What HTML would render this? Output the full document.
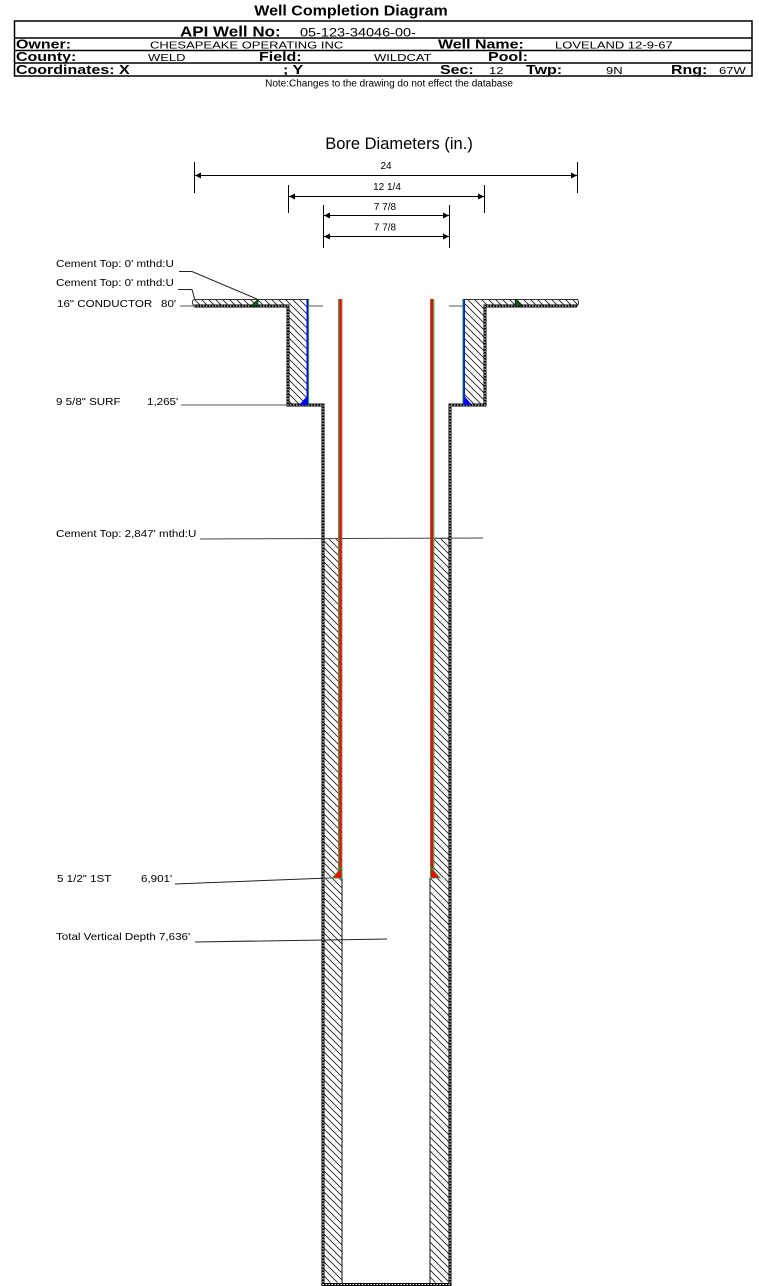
<!DOCTYPE html>
<html><head><meta charset="utf-8"><style>
html,body{margin:0;padding:0;background:#fff;width:759px;height:1286px;overflow:hidden}
svg{display:block}
text{font-family:"Liberation Sans",Arial,sans-serif;fill:#000}
.b{font-weight:bold;font-size:16px}
.v{font-size:13px}
.l{font-size:11.6px}
</style></head><body>
<svg width="759" height="1286" viewBox="0 0 759 1286" xmlns="http://www.w3.org/2000/svg">
<defs>
<pattern id="h" patternUnits="userSpaceOnUse" width="7" height="7">
<path d="M-1,-1 L8,8 M-1,6 L1,8 M6,-1 L8,1" stroke="#222" stroke-width="0.9" fill="none"/>
</pattern>
<marker id="ar" viewBox="0 0 10 10" refX="10" refY="5" markerWidth="9" markerHeight="6" orient="auto" markerUnits="userSpaceOnUse">
<path d="M0,0 L10,5 L0,10 z" fill="#000"/>
</marker>
</defs>

<!-- Header -->
<g transform="translate(0,15.5) scale(1,0.9)">
<text class="b" x="351" y="0" text-anchor="middle">Well Completion Diagram</text>
</g>
<g stroke="#000" stroke-width="1.5" fill="none">
<rect x="14.5" y="21" width="737.5" height="55"/>
<line x1="14.5" y1="38" x2="752" y2="38"/>
<line x1="14.5" y1="50.5" x2="752" y2="50.5"/>
<line x1="14.5" y1="63" x2="752" y2="63"/>
</g>
<g transform="translate(0,36.3) scale(1,0.85)">
<text class="b" x="180" y="0" style="font-size:17px">API Well No:</text>
<text x="300" y="0" style="font-size:14.5px">05-123-34046-00-</text>
</g>
<g transform="translate(0,48.7) scale(1,0.8)">
<text class="b" x="16" y="0">Owner:</text>
<text class="v" x="150" y="0">CHESAPEAKE OPERATING INC</text>
<text class="b" x="438" y="0">Well Name:</text>
<text class="v" x="555" y="0">LOVELAND 12-9-67</text>
</g>
<g transform="translate(0,61.2) scale(1,0.8)">
<text class="b" x="16" y="0">County:</text>
<text class="v" x="148" y="0">WELD</text>
<text class="b" x="259" y="0">Field:</text>
<text class="v" x="374" y="0">WILDCAT</text>
<text class="b" x="488" y="0">Pool:</text>
</g>
<g transform="translate(0,73.8) scale(1,0.8)">
<text class="b" x="16" y="0">Coordinates: X</text>
<text class="b" x="283" y="0">; Y</text>
<text class="b" x="440" y="0">Sec:</text>
<text class="v" x="489" y="0">12</text>
<text class="b" x="526" y="0">Twp:</text>
<text class="v" x="606" y="0">9N</text>
<text class="b" x="671" y="0">Rng:</text>
<text class="v" x="719" y="0">67W</text>
</g>

<text x="389" y="86.5" text-anchor="middle" style="font-size:10px">Note:Changes to the drawing do not effect the database</text>

<!-- Bore diameters -->
<text x="399" y="149" text-anchor="middle" style="font-size:16.5px">Bore Diameters (in.)</text>
<g stroke="#000" stroke-width="1">
<line x1="194.5" y1="162" x2="194.5" y2="193"/>
<line x1="577.5" y1="162" x2="577.5" y2="193"/>
<line x1="288.5" y1="185" x2="288.5" y2="213"/>
<line x1="484.5" y1="185" x2="484.5" y2="213"/>
<line x1="323.5" y1="205" x2="323.5" y2="248"/>
<line x1="449.5" y1="205" x2="449.5" y2="248"/>
<line x1="386" y1="175.5" x2="195" y2="175.5" marker-end="url(#ar)"/>
<line x1="386" y1="175.5" x2="577" y2="175.5" marker-end="url(#ar)"/>
<line x1="386" y1="196.5" x2="289" y2="196.5" marker-end="url(#ar)"/>
<line x1="386" y1="196.5" x2="484" y2="196.5" marker-end="url(#ar)"/>
<line x1="386" y1="215.5" x2="324" y2="215.5" marker-end="url(#ar)"/>
<line x1="386" y1="215.5" x2="449" y2="215.5" marker-end="url(#ar)"/>
<line x1="386" y1="236.5" x2="324" y2="236.5" marker-end="url(#ar)"/>
<line x1="386" y1="236.5" x2="449" y2="236.5" marker-end="url(#ar)"/>
</g>
<g style="font-size:10px" text-anchor="middle">
<text x="386" y="169">24</text>
<text x="387" y="190">12 1/4</text>
<text x="385" y="210">7 7/8</text>
<text x="385" y="230.5">7 7/8</text>
</g>

<!-- Leader lines -->
<g stroke="#555" stroke-width="1" fill="none">
<line x1="180" y1="306" x2="194" y2="306"/>
<line x1="309" y1="306" x2="323" y2="306"/>
<line x1="449" y1="306" x2="463" y2="306"/>
<line x1="181" y1="405" x2="288" y2="405"/>
<line x1="342" y1="1283.5" x2="430" y2="1283.5"/>
</g>
<g stroke="#222" stroke-width="1" fill="none">
<polyline points="179,271.5 192,271.5 257,299"/>
<polyline points="178,289.5 192,289.5 195,300"/>
<line x1="200" y1="539" x2="483" y2="538" stroke="#444"/>
<line x1="175" y1="884" x2="342" y2="877.5"/>
<line x1="195" y1="942" x2="387" y2="939"/>
</g>

<!-- Hatched cement -->
<g fill="url(#h)">
<rect x="194" y="300" width="114" height="6"/>
<rect x="289" y="306" width="19" height="98"/>
<rect x="463" y="300" width="115" height="6"/>
<rect x="464" y="306" width="20" height="98"/>
<rect x="324.5" y="538.5" width="17.5" height="744"/>
<rect x="430" y="538.5" width="18.5" height="744"/>
</g>
<line x1="323" y1="538.5" x2="342" y2="538.5" stroke="#555" stroke-width="1"/>
<line x1="430" y1="538.5" x2="450" y2="538.5" stroke="#555" stroke-width="1"/>

<!-- Plate top lines and ends -->
<g stroke="#333" stroke-width="1" fill="none">
<line x1="194" y1="299.5" x2="309" y2="299.5"/>
<line x1="463" y1="299.5" x2="578" y2="299.5"/>
<path d="M195,299.5 Q192,299.5 192.5,303 Q193,306 195,306"/>
<path d="M576,299.5 Q579,299.5 578.5,303 Q578,306 576,306"/>
</g>

<!-- Bore walls (thick dotted) -->
<g fill="none">
<polyline points="194,306 288,306 288,405 323,405 323,1284.5 450,1284.5 450,405 485,405 485,306 577,306" stroke="#000" stroke-width="3"/>
<polyline points="194,306 288,306 288,405 323,405 323,1284.5 450,1284.5 450,405 485,405 485,306 577,306" stroke="#fff" stroke-width="1" stroke-dasharray="1.5 1.5"/>
</g>

<!-- inner cement boundaries below shoe -->
<g stroke="#111" stroke-width="1">
<line x1="342" y1="878" x2="342" y2="1284"/>
<line x1="430" y1="878" x2="430" y2="1284"/>
<line x1="323" y1="878" x2="342" y2="878" stroke="#555"/>
<line x1="430" y1="878" x2="450" y2="878" stroke="#ccc"/>
</g>

<!-- Surface casing -->
<rect x="306.5" y="299" width="1.6" height="106" fill="#0000ff"/>
<rect x="308.1" y="299" width="1" height="106" fill="#1a8a3a"/>
<rect x="462.5" y="299" width="1" height="106" fill="#1a7a4a"/>
<rect x="463.5" y="299" width="1.5" height="106" fill="#0022cc"/>
<polygon points="308,395 308,405 299,405" fill="#0000ff"/>
<polygon points="463.5,395 463.5,405 472,405" fill="#0000ff"/>

<!-- Conductor shoes -->
<polygon points="258,299 258,306 250.5,306" fill="#0a5a1a" stroke="#000" stroke-width="0.5"/>
<polygon points="515,299 515,306 522.5,306" fill="#0a5a1a" stroke="#000" stroke-width="0.5"/>

<!-- Production casing -->
<rect x="338" y="299" width="1.2" height="579" fill="#2aa84a"/>
<rect x="339.2" y="299" width="2.6" height="579" fill="#ff0000"/>
<rect x="341.8" y="299" width="0.6" height="579" fill="#2aa84a"/>
<rect x="430" y="299" width="0.6" height="579" fill="#2aa84a"/>
<rect x="430.6" y="299" width="2.6" height="579" fill="#ff0000"/>
<rect x="433.2" y="299" width="1.2" height="579" fill="#2aa84a"/>
<polygon points="341.8,867 341.8,878 332.5,878" fill="#ff0000" stroke="#2aa84a" stroke-width="0.8"/>
<polygon points="430.6,867 430.6,878 440,878" fill="#ff0000" stroke="#2aa84a" stroke-width="0.8"/>

<!-- Labels -->
<g class="l">
<text transform="translate(56,267) scale(1,0.88)">Cement Top: 0' mthd:U</text>
<text transform="translate(56,286) scale(1,0.88)">Cement Top: 0' mthd:U</text>
<text transform="translate(57,307) scale(1,0.88)">16" CONDUCTOR</text>
<text transform="translate(161,307) scale(1,0.88)">80'</text>
<text transform="translate(56,405) scale(1,0.88)">9 5/8" SURF</text>
<text transform="translate(147,405) scale(1,0.88)">1,265'</text>
<text transform="translate(56,537) scale(1,0.88)">Cement Top: 2,847' mthd:U</text>
<text transform="translate(57,882) scale(1,0.88)">5 1/2" 1ST</text>
<text transform="translate(141,882) scale(1,0.88)">6,901'</text>
<text transform="translate(56,940) scale(1,0.88)">Total Vertical Depth 7,636'</text>
</g>
</svg>
</body></html>
